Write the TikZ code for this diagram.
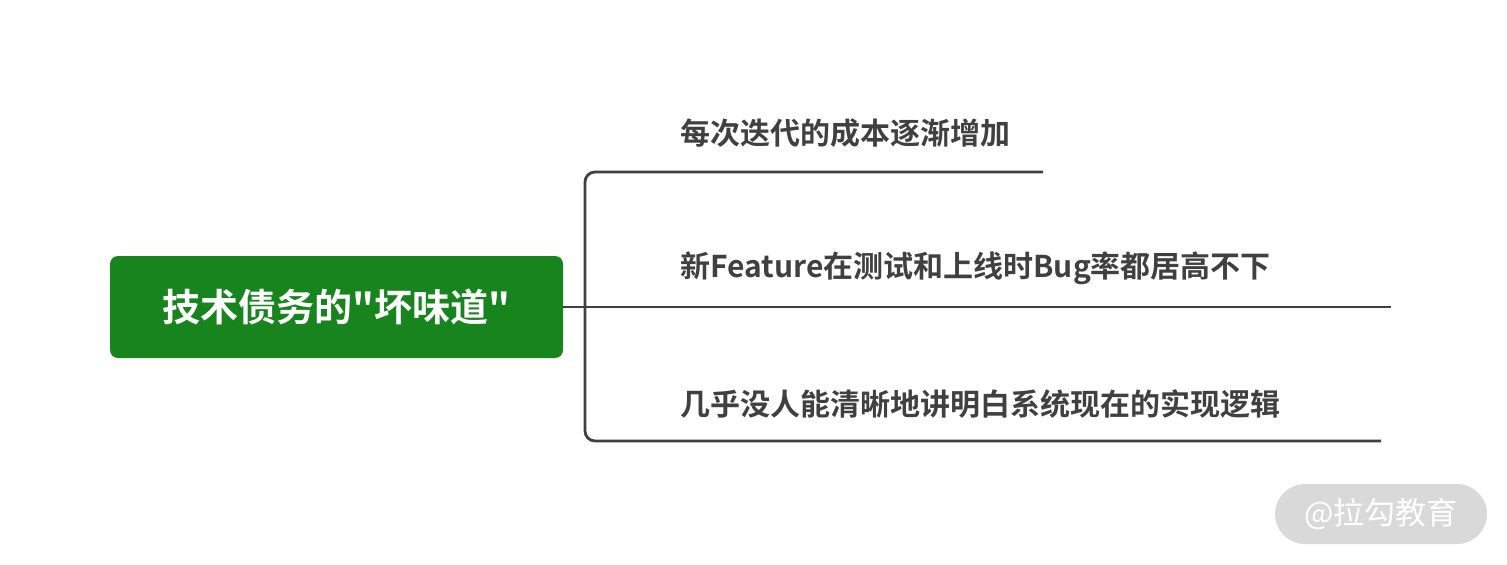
\documentclass[tikz,border=0pt]{standalone}
\usepackage{fontspec}
\setmainfont{Noto Sans CJK SC}
\newfontfamily\cjkbold{Noto Sans CJK SC Bold}
\definecolor{rootgreen}{RGB}{24,132,30}
\definecolor{linegray}{RGB}{64,64,64}
\definecolor{markgray}{RGB}{217,217,217}
\tikzset{
  rootbox/.style={fill=rootgreen, rounded corners=4pt, minimum width=226.5pt,
    minimum height=51pt, text=white, font=\cjkbold\fontsize{19}{19}\selectfont},
  leaftext/.style={anchor=west, inner sep=0pt, text=linegray,
    font=\cjkbold\fontsize{15}{15}\selectfont},
  branch/.style={draw=linegray, line width=1.4pt, rounded corners=5pt},
}
\begin{document}
\begin{tikzpicture}[x=0.5pt, y=-0.5pt]
  \useasboundingbox (0,0) rectangle (1507,564);
  % Nút gốc
  \node[rootbox] (root) at (336.5,307) {技术债务的"坏味道"};
  % Các nhánh
  \node[leaftext] (c1) at (680,133) {每次迭代的成本逐渐增加};
  \node[leaftext] (c2) at (680,268) {新Feature在测试和上线时Bug率都居高不下};
  \node[leaftext] (c3) at (680,404) {几乎没人能清晰地讲明白系统现在的实现逻辑};
  \coordinate (fork) at (585,307);
  \coordinate (e1) at (1043,172);
  \coordinate (e2) at (1391,307);
  \coordinate (e3) at (1381,441);
  % Đường nối
  \draw[branch] (root.east) -- (e2);
  \draw[branch] (fork) |- (e1);
  \draw[branch] (fork) |- (e3);
  % Dấu nước
  \node[fill=markgray, rounded corners=15pt, minimum width=106pt, minimum height=30pt,
    text=white, font=\fontsize{15.5}{15.5}\selectfont] (mark) at (1381,514) {@拉勾教育};
\end{tikzpicture}
\end{document}
